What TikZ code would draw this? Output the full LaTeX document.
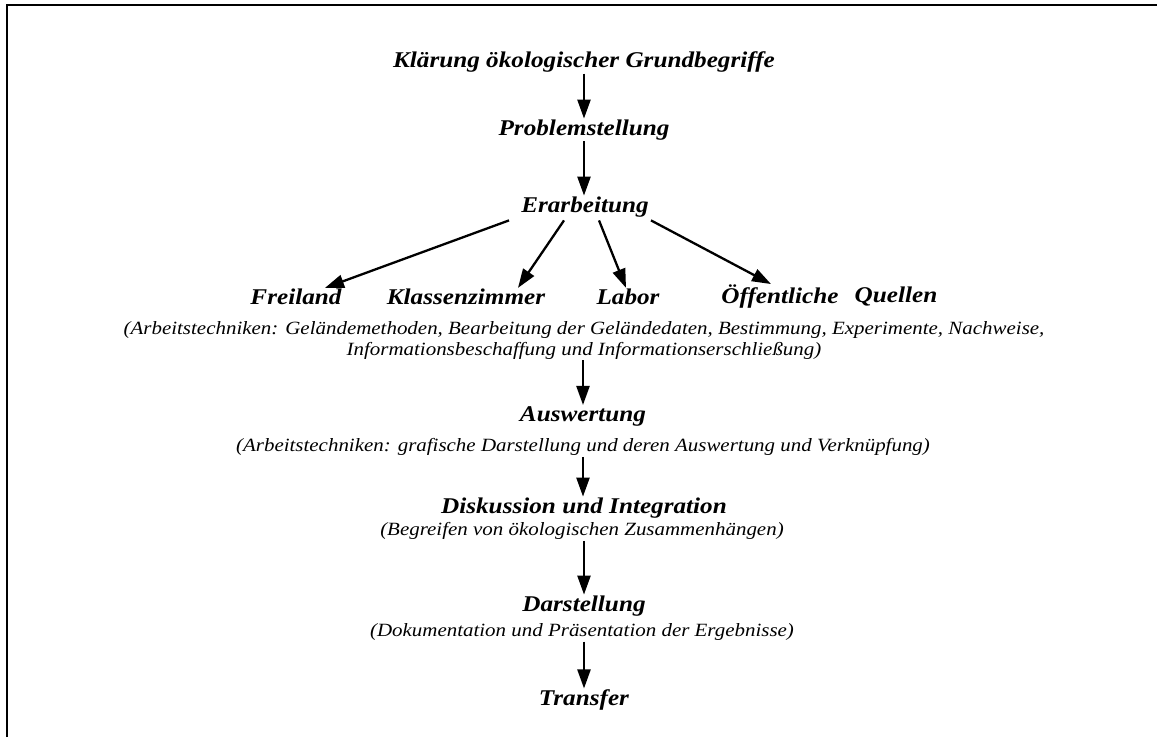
\documentclass[tikz,border=0pt]{standalone}
\usepackage{fontspec}
\setmainfont[FakeStretch=1.12]{Liberation Serif}
\usetikzlibrary{arrows.meta}
\begin{document}
\begin{tikzpicture}[x=1pt,y=-1pt,
  stage/.style={inner sep=1pt,font=\fontsize{22.5}{26}\selectfont\bfseries\itshape},
  note/.style={inner sep=1pt,align=center,font=\fontsize{18.7}{21}\selectfont\itshape},
  arr/.style={line width=2.3pt,-{Triangle[length=19pt,width=13pt]}},
  frameline/.style={line width=2pt}]
\useasboundingbox (0,0) rectangle (1157,737);
% open frame: top and left edge only
\coordinate (ftl) at (7,5);
\coordinate (ftr) at (1157,5);
\coordinate (fbl) at (7,737);
\draw[frameline] (fbl) -- (ftl) -- (ftr);

% main column
\node[stage] (klaer) at (584,62) {Klärung ökologischer Grundbegriffe};
\node[stage] (probl) at (584,130) {Problemstellung};
\node[stage] (erarb) at (585,207) {Erarbeitung};

% places of work
\node[stage] (frei)   at (296,297) {Freiland};
\node[stage] (klasse) at (466,297) {Klassenzimmer};
\node[stage] (labor)  at (628,297) {Labor};
\node[stage] (oeff)   at (780,297) {Öffentliche};
\node[stage] (quell)  at (896,297) {Quellen};
\node[note] (techA) at (584,340) {(Arbeitstechniken: Geländemethoden, Bearbeitung der Geländedaten, Bestimmung, Experimente, Nachweise,\\Informationsbeschaffung und Informationserschließung)};

\node[stage] (ausw) at (583,416) {Auswertung};
\node[note] (techB) at (583,447) {(Arbeitstechniken: grafische Darstellung und deren Auswertung und Verknüpfung)};
\node[stage] (disk) at (584,508) {Diskussion und Integration};
\node[note] (begr) at (582,531) {(Begreifen von ökologischen Zusammenhängen)};
\node[stage] (darst) at (584,606) {Darstellung};
\node[note] (doku) at (582,632) {(Dokumentation und Präsentation der Ergebnisse)};
\node[stage] (trans) at (584,700) {Transfer};

% connectors: vertical steps
\draw[arr] (klaer.south -| probl.north) -- (probl.north);
\draw[arr] (probl.south) -- (probl.south |- erarb.north);
\draw[arr] (techA.south -| ausw.north) -- (ausw.north);
\draw[arr] (techB.south -| ausw.north) -- (ausw.south |- disk.north);
\draw[arr] (begr.south -| darst.north) -- (darst.north);
\draw[arr] (doku.south -| trans.north) -- (trans.north);
% connectors: fan-out to the places of work
\draw[arr] ([xshift=-76pt,yshift=-2pt]erarb.south) -- ([xshift=29pt]frei.north);
\draw[arr] ([xshift=-21pt,yshift=-2pt]erarb.south) -- ([xshift=52pt]klasse.north);
\draw[arr] ([xshift=14pt,yshift=-2pt]erarb.south) -- ([xshift=-2pt]labor.north);
\draw[arr] ([xshift=66pt,yshift=-2pt]erarb.south) -- ([xshift=-9pt]oeff.north);
\end{tikzpicture}
\end{document}
